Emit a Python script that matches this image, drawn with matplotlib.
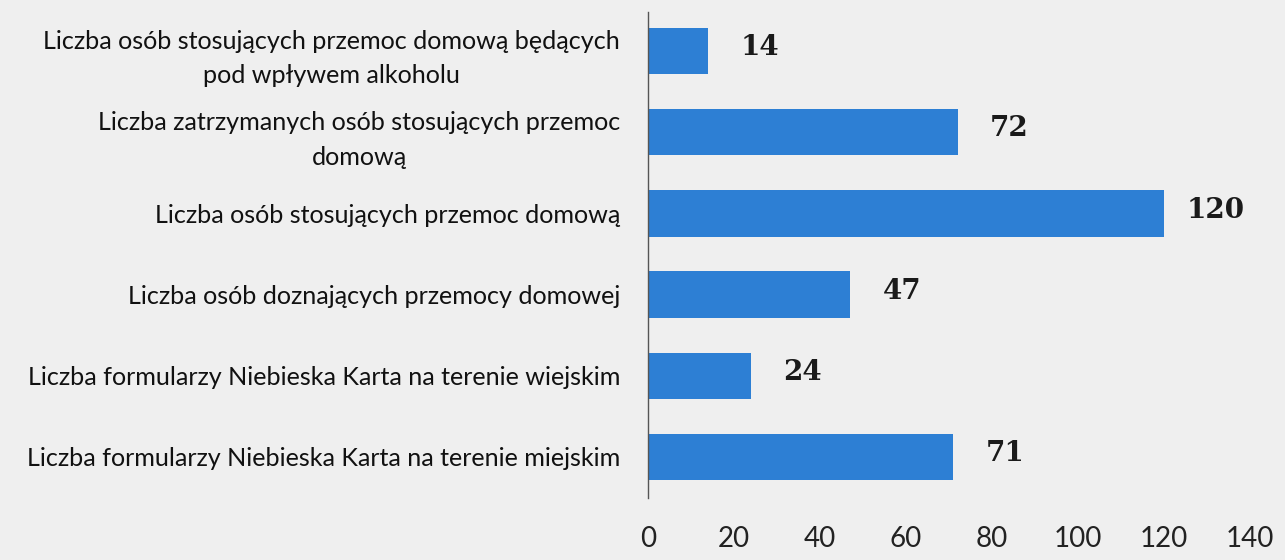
import matplotlib
matplotlib.use("Agg")
import matplotlib.pyplot as plt

categories = [
    "Liczba osób stosujących przemoc domową będących\npod wpływem alkoholu",
    "Liczba zatrzymanych osób stosujących przemoc\ndomową",
    "Liczba osób stosujących przemoc domową",
    "Liczba osób doznających przemocy domowej",
    "Liczba formularzy Niebieska Karta na terenie wiejskim",
    "Liczba formularzy Niebieska Karta na terenie miejskim",
]
values = [14, 72, 120, 47, 24, 71]
xticks = [0, 20, 40, 60, 80, 100, 120, 140]

bg = "#efefef"
fig = plt.figure(figsize=(12.85, 5.6), dpi=100, facecolor=bg)
ax = fig.add_axes([648/1285, 1-498/560, 602/1285, 486/560])
ax.set_facecolor(bg)

ypos = list(range(len(categories)))
ax.barh(ypos, values, height=0.57, color="#2d7fd4")
ax.set_ylim(len(categories) - 0.495, -0.48)
ax.set_xlim(0, 140)

for sp in ["top", "right", "bottom"]:
    ax.spines[sp].set_visible(False)
ax.spines["left"].set_color("#555555")
ax.spines["left"].set_linewidth(1.0)

ax.set_xticks(xticks)
ax.set_xticklabels([str(t) for t in xticks], fontsize=20, family="Lato", color="#222222")
ax.tick_params(axis="x", length=0, pad=20)
ax.set_yticks(ypos)
ax.set_yticklabels(categories, fontsize=18.1, family="Lato", color="#111111",
                   multialignment="center", linespacing=1.6)
ax.tick_params(axis="y", length=0, pad=20)

for y, v in zip(ypos, values):
    ax.text(v + 12, y - 0.04, str(v), va="center", ha="center", fontsize=20,
            fontweight="bold", family="DejaVu Serif", color="#1a1a1a")

fig.savefig("out.png", dpi=100, facecolor=bg)
